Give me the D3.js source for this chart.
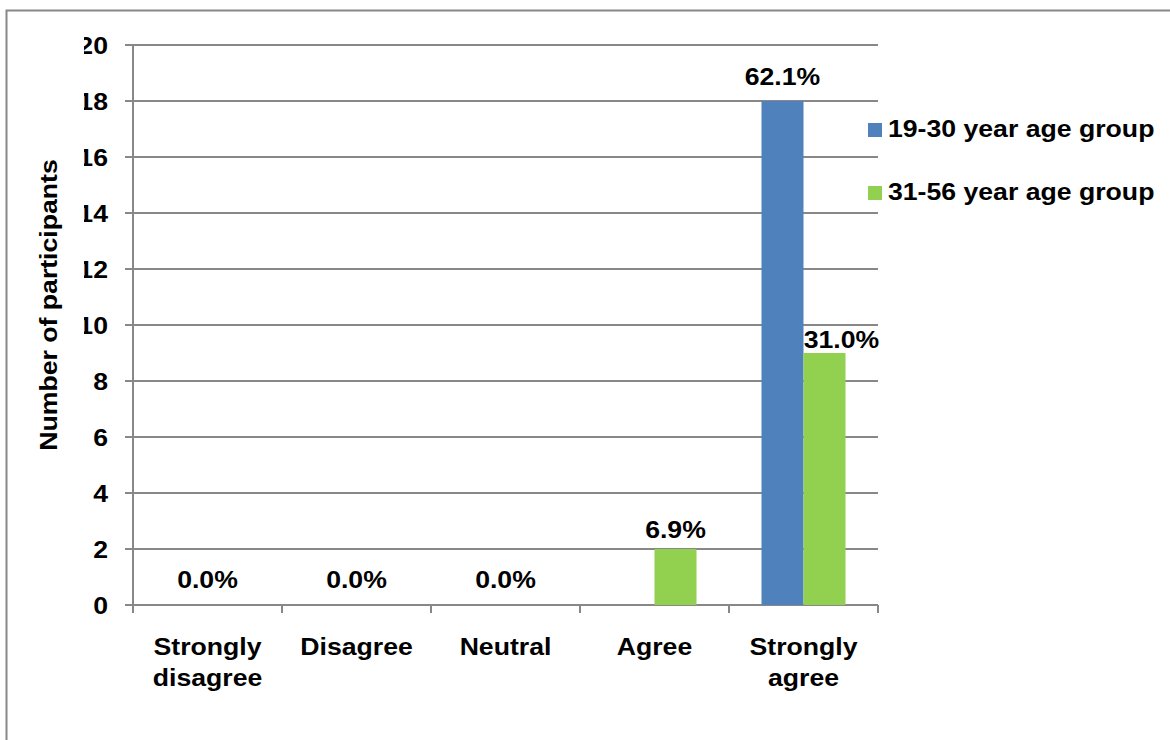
<!DOCTYPE html>
<html><head><meta charset="utf-8">
<script src="https://cdn.jsdelivr.net/npm/d3@7"></script>
<style>body{margin:0;background:#fff}svg{display:block}text{font-family:"Liberation Sans",Arial,sans-serif;font-weight:bold;fill:#000}</style>
</head><body><svg id="c" width="1170" height="740"></svg>
<script>
const categories = [["Strongly","disagree"],["Disagree"],["Neutral"],["Agree"],["Strongly","agree"]];
const seriesNames = ["19-30 year age group","31-56 year age group"];
const group1930 = [0,0,0,0,18];
const group3156 = [0,0,0,2,9];
const labels1930 = [null,null,null,null,"62.1%"];
const labels3156 = ["0.0%","0.0%","0.0%","6.9%","31.0%"];
const yTicks = [0,2,4,6,8,10,12,14,16,18,20];
const colors = ["#4F81BD","#92D050"];

const FS = 24, SX = 1.11;
const svg = d3.select("#c");
function txt(g, x, y, s, anchor, rot){
  return g.append("text")
    .attr("transform",`translate(${x},${y})${rot?" rotate("+rot+")":""} scale(${SX},1)`)
    .attr("text-anchor",anchor||"middle").attr("font-size",FS).text(s);
}

svg.append("rect").attr("x",6.5).attr("y",10.5).attr("width",1200).attr("height",800)
  .attr("fill","none").attr("stroke","#888").attr("stroke-width",2);

const L=133,R=878,T=45,B=605;
const x = d3.scaleBand().domain(d3.range(categories.length)).range([L,R]);
const y = d3.scaleLinear().domain([0,20]).range([B,T]);
const sub = d3.scaleBand().domain([0,1]).range([0,84]);
const cx = i => x(i)+x.bandwidth()/2;

// grid
svg.append("g").selectAll("line").data(yTicks).join("line")
  .attr("x1",L-8).attr("x2",R).attr("y1",d=>y(d)).attr("y2",d=>y(d))
  .attr("stroke","#888").attr("stroke-width",2);
svg.append("line").attr("x1",L).attr("x2",L).attr("y1",T).attr("y2",B).attr("stroke","#888").attr("stroke-width",2);
svg.append("g").selectAll("line").data(d3.range(categories.length+1)).join("line")
  .attr("x1",d=>L+d*x.step()).attr("x2",d=>L+d*x.step()).attr("y1",B).attr("y2",B+8)
  .attr("stroke","#888").attr("stroke-width",2);

// y labels with clip
svg.append("clipPath").attr("id","yc").append("rect").attr("x",84).attr("y",0).attr("width",100).attr("height",740);
const yl = svg.append("g").attr("clip-path","url(#yc)");
yTicks.forEach(d=>txt(yl,108,y(d)+9,d,"end"));

// bars
[group1930,group3156].forEach((vals,si)=>{
  svg.append("g").selectAll("rect").data(vals).join("rect")
    .attr("x",(d,i)=>cx(i)-42+sub(si))
    .attr("width",sub.bandwidth())
    .attr("y",d=>y(d)).attr("height",d=>B-y(d)).attr("fill",colors[si]);
});

// data labels
const dl = svg.append("g");
labels1930.forEach((s,i)=>{ if(s) txt(dl, cx(i)-21, y(group1930[i])-16, s); });
labels3156.forEach((s,i)=>{
  const v=group3156[i];
  if(v===0) txt(dl, cx(i), B-17, s);
  else if(v>=5) txt(dl, cx(i)+38, y(v)-5, s);
  else txt(dl, cx(i)+21, y(v)-11, s);
});

// category labels
const cl = svg.append("g");
categories.forEach((d,i)=>d.forEach((s,k)=>txt(cl, cx(i), 655+k*31, s)));

// y title
txt(svg, 57, 305, "Number of participants", "middle", -90);

// legend
seriesNames.forEach((n,i)=>{
  svg.append("rect").attr("x",868).attr("y",123+i*63).attr("width",14).attr("height",14).attr("fill",colors[i]);
  txt(svg, 888, 137+i*63, n, "start");
});
</script></body></html>
